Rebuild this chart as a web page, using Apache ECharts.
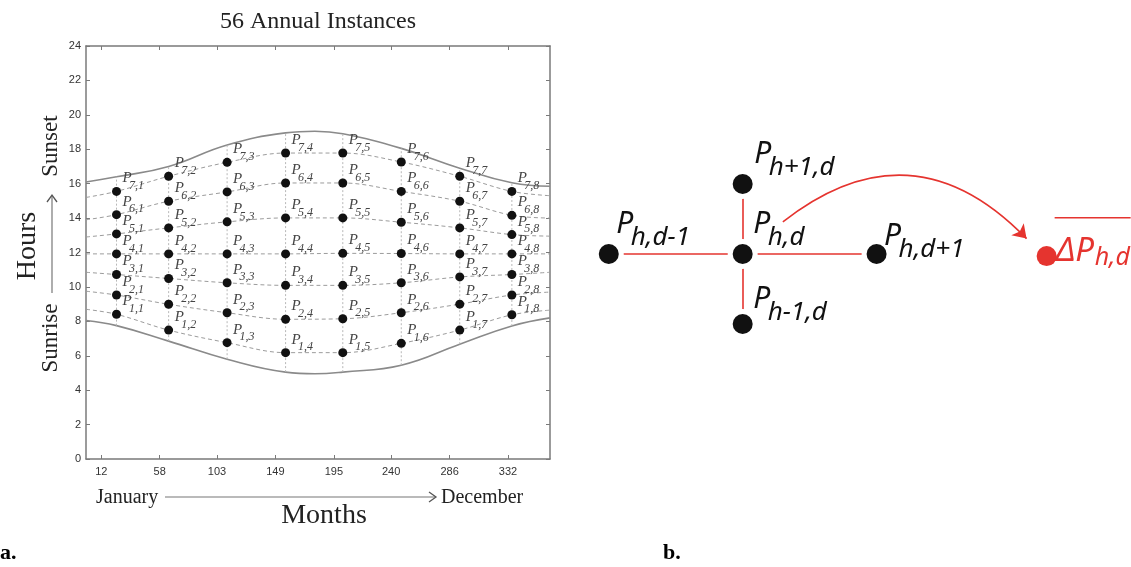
<!DOCTYPE html>
<html>
<head>
<meta charset="utf-8">
<script src="https://cdn.jsdelivr.net/npm/echarts@6/dist/echarts.min.js"></script>
<style>
html, body { margin: 0; padding: 0; background: #fff; }
#chart { width: 1131px; height: 567px; }
</style>
</head>
<body>
<div id="chart"></div>
<script>
// ---- panel a: 8 sample days x 7 hour rows ----
const dayCols = [24, 65, 111, 157, 202, 248, 294, 335];
const rowP1 = [8.41, 7.49, 6.76, 6.18, 6.18, 6.72, 7.49, 8.38];
const rowP2 = [9.53, 8.99, 8.5, 8.12, 8.15, 8.5, 9.0, 9.53];
const rowP3 = [10.72, 10.49, 10.24, 10.09, 10.09, 10.24, 10.58, 10.72];
const rowP4 = [11.92, 11.92, 11.92, 11.92, 11.95, 11.94, 11.92, 11.92];
const rowP5 = [13.08, 13.43, 13.78, 14.01, 14.01, 13.76, 13.43, 13.04];
const rowP6 = [14.2, 14.98, 15.52, 16.04, 16.04, 15.55, 14.98, 14.16];
const rowP7 = [15.55, 16.43, 17.24, 17.78, 17.78, 17.26, 16.43, 15.55];
const rows = [rowP1, rowP2, rowP3, rowP4, rowP5, rowP6, rowP7];
// where the dashed row lines meet the left (day 0) and right (day 365) frame
const rowStart = [8.7, 9.75, 10.85, 11.92, 12.9, 13.9, 15.2];
const rowEnd = [8.65, 9.7, 10.85, 11.92, 12.95, 14.0, 15.3];
// sunrise / sunset envelope
const curveDays = [0, 24, 65, 111, 157, 180, 202, 248, 294, 335, 365];
const sunrise = [8.05, 7.75, 6.85, 5.8, 5.05, 4.95, 5.05, 5.45, 6.67, 7.73, 8.2];
const sunset = [16.1, 16.4, 17.0, 18.25, 18.95, 19.05, 18.9, 18.05, 16.9, 16.05, 15.85];
const xTicks = [12, 58, 103, 149, 195, 240, 286, 332];

// ---- panel b: neighbourhood diagram ----
const nodeSub = ['h,d-1', 'h,d', 'h,d+1', 'h+1,d', 'h-1,d'];
const nodeX = [-1, 0, 1, 0, 0];
const nodeY = [0, 0, 0, 1, -1];
const edges = [[0, 1], [1, 2], [1, 3], [1, 4]];
const deltaNode = [2.27, -0.03];
const arrowFrom = [0.3, 0.46];
const arrowTo = [2.12, 0.22];

const RED = '#e5342f';
const serif = '"Liberation Serif", "Times New Roman", serif';
const sans = '"Liberation Sans", Arial, sans-serif';
const dsans = '"Noto Sans", sans-serif';

const chart = echarts.init(document.getElementById('chart'));

function at(list, day) {
  return list[curveDays.indexOf(day)];
}

const series = [];

// envelope curves
[sunrise, sunset].forEach(function (vals) {
  series.push({
    type: 'line', xAxisIndex: 0, yAxisIndex: 0, silent: true,
    smooth: 0.45, symbol: 'none',
    lineStyle: { color: '#8a8a8a', width: 1.6 },
    data: curveDays.map(function (d, i) { return [d, vals[i]]; })
  });
});

// vertical dotted lines through each column
dayCols.forEach(function (d) {
  series.push({
    type: 'line', xAxisIndex: 0, yAxisIndex: 0, silent: true, symbol: 'none',
    lineStyle: { color: '#b8b8b8', width: 1, type: [2, 2] },
    data: [[d, at(sunrise, d)], [d, at(sunset, d)]]
  });
});

// dashed row lines
rows.forEach(function (r, h) {
  const line = [[0, rowStart[h]]];
  dayCols.forEach(function (d, c) { line.push([d, r[c]]); });
  line.push([365, rowEnd[h]]);
  series.push({
    type: 'line', xAxisIndex: 0, yAxisIndex: 0, silent: true,
    smooth: 0.35, symbol: 'none',
    lineStyle: { color: '#9c9c9c', width: 1, type: [4, 3] },
    data: line
  });
});

// the 56 points: one series draws dot + "P", a second one the subscript
const pts = [];
rows.forEach(function (r, h) {
  dayCols.forEach(function (d, c) {
    pts.push({ value: [d, r[c]], name: (h + 1) + ',' + (c + 1) });
  });
});
series.push({
  type: 'scatter', xAxisIndex: 0, yAxisIndex: 0, z: 5,
  symbolSize: 9,
  itemStyle: { color: '#111', opacity: 1 },
  label: {
    show: true, formatter: 'P', position: [10.5, -8.5],
    align: 'left', verticalAlign: 'middle',
    fontFamily: serif, fontStyle: 'italic', fontSize: 15, color: '#444'
  },
  data: pts
});
series.push({
  type: 'scatter', xAxisIndex: 0, yAxisIndex: 0, z: 6, silent: true,
  symbolSize: 9,
  itemStyle: { color: 'rgba(0,0,0,0)', opacity: 1 },
  label: {
    show: true, formatter: '{b}', position: [17, -1],
    align: 'left', verticalAlign: 'middle',
    fontFamily: serif, fontStyle: 'italic', fontSize: 12, color: '#444'
  },
  data: pts
});

// ---- panel b series ----
series.push({
  type: 'lines', coordinateSystem: 'cartesian2d', xAxisIndex: 2, yAxisIndex: 2,
  silent: true, z: 2,
  lineStyle: { color: RED, width: 1.6, opacity: 1 },
  data: edges.map(function (e) {
    return { coords: [[nodeX[e[0]], nodeY[e[0]]], [nodeX[e[1]], nodeY[e[1]]]] };
  })
});
series.push({
  type: 'lines', coordinateSystem: 'cartesian2d', xAxisIndex: 2, yAxisIndex: 2,
  silent: true, z: 2,
  symbol: ['none', 'arrow'], symbolSize: 13,
  lineStyle: { color: RED, width: 1.6, opacity: 1, curveness: 0.45 },
  data: [{ coords: [arrowFrom, arrowTo] }]
});

// label anchors (px from dot centre): [P x, P y, sub x, sub y]
const nodeLab = [
  [10, -27, 22, -16.5],
  [13, -27, 25, -16.5],
  [10, -15, 22, -4.5],
  [14, -27, 26, -16.5],
  [13, -22, 25, -11.5]
];
const bigP = { fontFamily: dsans, fontStyle: 'italic', fontSize: 30, align: 'left', verticalAlign: 'middle' };
const bigS = { fontFamily: dsans, fontStyle: 'italic', fontSize: 26, align: 'left', verticalAlign: 'middle' };

series.push({
  type: 'scatter', xAxisIndex: 2, yAxisIndex: 2, z: 5,
  symbolSize: 25,
  itemStyle: { color: '#111', borderColor: '#fff', borderWidth: 5, opacity: 1 },
  label: Object.assign({ show: true, formatter: 'P', color: '#111' }, bigP),
  data: nodeSub.map(function (s, i) {
    return { value: [nodeX[i], nodeY[i]], name: s,
      label: { position: [12.5 + nodeLab[i][0], 12.5 + nodeLab[i][1]] } };
  })
});
series.push({
  type: 'scatter', xAxisIndex: 2, yAxisIndex: 2, z: 6, silent: true,
  symbolSize: 25,
  itemStyle: { color: 'rgba(0,0,0,0)', opacity: 1 },
  label: Object.assign({ show: true, formatter: '{b}', color: '#111' }, bigS),
  data: nodeSub.map(function (s, i) {
    return { value: [nodeX[i], nodeY[i]], name: s,
      label: { position: [12.5 + nodeLab[i][2], 12.5 + nodeLab[i][3]] } };
  })
});

// red averaged point with overlined label
series.push({
  type: 'scatter', xAxisIndex: 2, yAxisIndex: 2, z: 5,
  symbolSize: 20,
  itemStyle: { color: RED, opacity: 1 },
  label: Object.assign({}, bigP, { show: true, formatter: 'ΔP', color: RED, fontSize: 33, position: [10 + 9, 10 - 5] }),
  data: [{ value: deltaNode, name: 'h,d' }]
});
series.push({
  type: 'scatter', xAxisIndex: 2, yAxisIndex: 2, z: 6, silent: true,
  symbolSize: 20,
  itemStyle: { color: 'rgba(0,0,0,0)', opacity: 1 },
  label: Object.assign({}, bigS, { show: true, formatter: '{b}', color: RED, fontSize: 25, position: [10 + 48, 10 + 2] }),
  data: [{ value: deltaNode, name: 'h,d' }]
});
series.push({
  type: 'scatter', xAxisIndex: 2, yAxisIndex: 2, z: 6, silent: true,
  symbolSize: 20,
  itemStyle: { color: 'rgba(0,0,0,0)', opacity: 1 },
  label: {
    show: true, formatter: ' ', position: [10 + 8, 10 - 39],
    align: 'left', verticalAlign: 'top',
    backgroundColor: RED, width: 76, height: 1.5, lineHeight: 1.5, fontSize: 1, padding: 0
  },
  data: [{ value: deltaNode, name: 'bar' }]
});

const axisCol = '#7a7a7a';
const tick = { show: true, inside: true, length: 4, lineStyle: { color: axisCol, width: 1 } };

chart.setOption({
  animation: false,
  backgroundColor: '#fff',
  grid: [
    { left: 86, top: 46, width: 464, height: 413 },
    { left: 582, top: 142, width: 551.5, height: 224 }
  ],
  xAxis: [
    {
      gridIndex: 0, type: 'value', min: 0, max: 365, position: 'bottom',
      axisLine: { onZero: false, lineStyle: { color: axisCol, width: 1.5 } },
      axisTick: Object.assign({ customValues: xTicks }, tick),
      axisLabel: { customValues: xTicks, fontFamily: sans, fontSize: 11, color: '#333', margin: 7 },
      splitLine: { show: false }
    },
    {
      gridIndex: 0, type: 'value', min: 0, max: 365, position: 'top',
      axisLine: { onZero: false, lineStyle: { color: axisCol, width: 1.5 } },
      axisTick: Object.assign({ customValues: xTicks }, tick),
      axisLabel: { show: false },
      splitLine: { show: false }
    },
    { gridIndex: 1, type: 'value', min: -1.2, max: 2.9, show: false }
  ],
  yAxis: [
    {
      gridIndex: 0, type: 'value', min: 0, max: 24, interval: 2, position: 'left',
      axisLine: { show: true, onZero: false, lineStyle: { color: axisCol, width: 1.5 } },
      axisTick: tick,
      axisLabel: { fontFamily: sans, fontSize: 11, color: '#333', margin: 5 },
      splitLine: { show: false }
    },
    {
      gridIndex: 0, type: 'value', min: 0, max: 24, interval: 2, position: 'right',
      axisLine: { show: true, onZero: false, lineStyle: { color: axisCol, width: 1.5 } },
      axisTick: tick,
      axisLabel: { show: false },
      splitLine: { show: false }
    },
    { gridIndex: 1, type: 'value', min: -1.6, max: 1.6, show: false }
  ],
  graphic: [
    { type: 'text', x: 318, y: 22, style: { text: '56 Annual Instances', font: '24px ' + serif, fill: '#222', align: 'center', verticalAlign: 'middle' } },
    { type: 'text', x: 28, y: 246, rotation: Math.PI / 2, style: { text: 'Hours', font: '28px ' + serif, fill: '#222', align: 'center', verticalAlign: 'middle' } },
    { type: 'text', x: 51, y: 146, rotation: Math.PI / 2, style: { text: 'Sunset', font: '23px ' + serif, fill: '#222', align: 'center', verticalAlign: 'middle' } },
    { type: 'text', x: 51, y: 338, rotation: Math.PI / 2, style: { text: 'Sunrise', font: '23px ' + serif, fill: '#222', align: 'center', verticalAlign: 'middle' } },
    { type: 'line', shape: { x1: 52, y1: 293, x2: 52, y2: 196 }, style: { stroke: '#777', lineWidth: 1.2 } },
    { type: 'polyline', shape: { points: [[47, 202], [52, 195], [57, 202]] }, style: { stroke: '#555', lineWidth: 1.3, fill: null } },
    { type: 'text', x: 96, y: 498, style: { text: 'January', font: '20px ' + serif, fill: '#222', align: 'left', verticalAlign: 'middle' } },
    { type: 'text', x: 441, y: 498, style: { text: 'December', font: '20px ' + serif, fill: '#222', align: 'left', verticalAlign: 'middle' } },
    { type: 'line', shape: { x1: 165, y1: 497, x2: 435, y2: 497 }, style: { stroke: '#777', lineWidth: 1.2 } },
    { type: 'polyline', shape: { points: [[429, 492], [436, 497], [429, 502]] }, style: { stroke: '#555', lineWidth: 1.3, fill: null } },
    { type: 'text', x: 324, y: 516, style: { text: 'Months', font: '28px ' + serif, fill: '#222', align: 'center', verticalAlign: 'middle' } },
    { type: 'text', x: 0, y: 553, style: { text: 'a.', font: 'bold 22px ' + serif, fill: '#000', align: 'left', verticalAlign: 'middle' } },
    { type: 'text', x: 663, y: 553, style: { text: 'b.', font: 'bold 22px ' + serif, fill: '#000', align: 'left', verticalAlign: 'middle' } }
  ],
  series: series
});
</script>
</body>
</html>
